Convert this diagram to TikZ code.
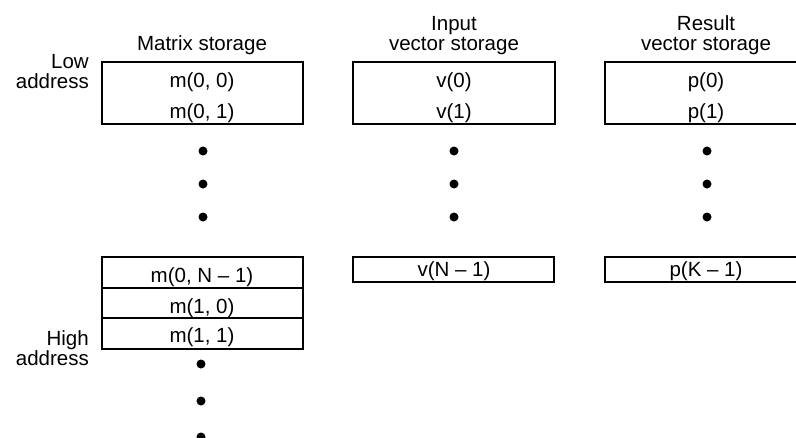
\documentclass[tikz,border=0pt]{standalone}
\usepackage{fontspec}
\setmainfont{Liberation Sans}
\begin{document}
\begin{tikzpicture}[x=1pt,y=-1pt,
  lbl/.style={inner sep=0pt,anchor=base,font=\fontsize{20.5}{23}\selectfont},
  rlbl/.style={lbl,anchor=base east},
  cell/.style={draw,line width=2pt},
  dotn/.style={circle,fill=black,inner sep=0pt,minimum size=9pt}]
\useasboundingbox (0,0) rectangle (796,437);
\clip (0,0) rectangle (796,437);
% titles
\node[lbl] (tm) at (202,50) {Matrix storage};
\node[lbl] (ti1) at (454,30) {Input};
\node[lbl] (ti2) at (454,50) {vector storage};
\node[lbl] (tr1) at (706,30) {Result};
\node[lbl] (tr2) at (706,50) {vector storage};
\node[rlbl] (low1) at (89,68) {Low};
\node[rlbl] (low2) at (89,88) {address};
\node[rlbl] (high1) at (89,345) {High};
\node[rlbl] (high2) at (89,365) {address};
% top boxes
\draw[cell] (102,62) rectangle (303,124);
\draw[cell] (353,62) rectangle (555,124);
\draw[cell] (605,62) rectangle (807,124);
\node[lbl] (m00) at (202,87) {m(0, 0)};
\node[lbl] (m01) at (202,118) {m(0, 1)};
\node[lbl] (v0) at (454,87) {v(0)};
\node[lbl] (v1) at (454,118) {v(1)};
\node[lbl] (p0) at (706,87) {p(0)};
\node[lbl] (p1) at (706,118) {p(1)};
% dots
\foreach \x/\n in {203/a,454/b,707/c}{
  \node[dotn] (d1\n) at (\x,151) {};
  \node[dotn] (d2\n) at (\x,184) {};
  \node[dotn] (d3\n) at (\x,217) {};
}
% lower boxes
\draw[cell] (102,257) rectangle (303,349);
\draw[cell] (102,288) -- (303,288);
\draw[cell] (102,318) -- (303,318);
\node[lbl] (m0n) at (202,282) {m(0, N – 1)};
\node[lbl] (m10) at (202,313) {m(1, 0)};
\node[lbl] (m11) at (202,342) {m(1, 1)};
\draw[cell] (353,257) rectangle (554,282);
\draw[cell] (605,257) rectangle (807,282);
\node[lbl] (vn) at (454,276) {v(N – 1)};
\node[lbl] (pk) at (706,276) {p(K – 1)};
\node[dotn] (e1) at (201,364) {};
\node[dotn] (e2) at (201,401) {};
\node[dotn] (e3) at (201,437) {};
\end{tikzpicture}
\end{document}
